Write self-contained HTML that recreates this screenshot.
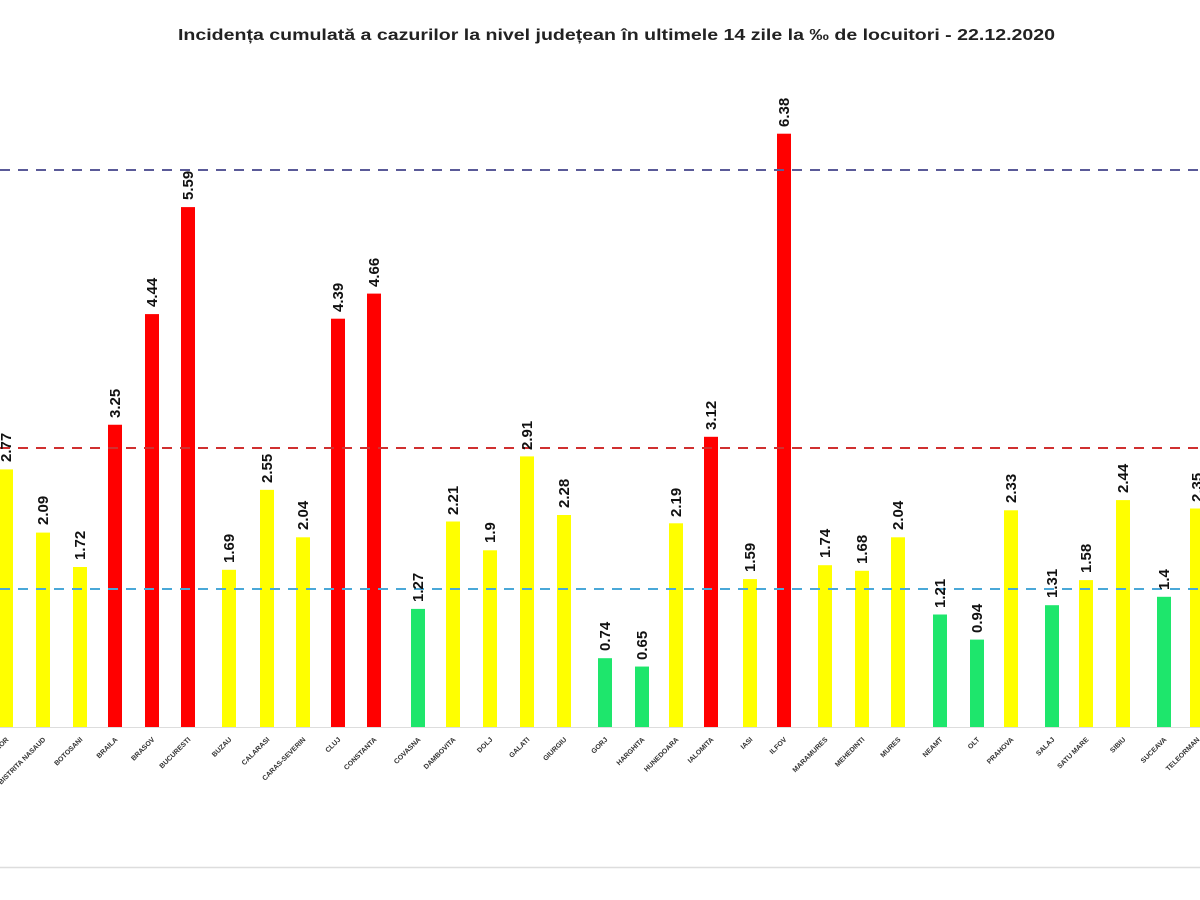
<!DOCTYPE html>
<html><head><meta charset="utf-8"><style>
html,body{margin:0;padding:0;background:#fff;width:1200px;height:900px;overflow:hidden}
svg{display:block}
.v{font:bold 15px "Liberation Sans",sans-serif;fill:#111}
.c{font:bold 7px "Liberation Sans",sans-serif;fill:#333}
</style></head><body>
<svg width="1200" height="900" viewBox="0 0 1200 900">
<text x="178" y="40" textLength="877" lengthAdjust="spacingAndGlyphs" style="font:bold 16px 'Liberation Sans',sans-serif;fill:#222">Incidența cumulată a cazurilor la nivel județean în ultimele 14 zile la ‰ de locuitori - 22.12.2020</text>
<line x1="0" y1="727.5" x2="1200" y2="727.5" stroke="#ddd" stroke-width="1"/>
<line x1="0" y1="867.5" x2="1200" y2="867.5" stroke="#ddd" stroke-width="1.5"/>
<g>
<rect x="-1" y="469.4" width="14" height="257.6" fill="#ffff00"/>
<rect x="36" y="532.6" width="14" height="194.4" fill="#ffff00"/>
<rect x="73" y="567" width="14" height="160" fill="#ffff00"/>
<rect x="108" y="424.75" width="14" height="302.25" fill="#ff0000"/>
<rect x="145" y="314.1" width="14" height="412.9" fill="#ff0000"/>
<rect x="181" y="207.1" width="14" height="519.9" fill="#ff0000"/>
<rect x="222" y="569.8" width="14" height="157.2" fill="#ffff00"/>
<rect x="260" y="489.85" width="14" height="237.15" fill="#ffff00"/>
<rect x="296" y="537.3" width="14" height="189.7" fill="#ffff00"/>
<rect x="331" y="318.7" width="14" height="408.3" fill="#ff0000"/>
<rect x="367" y="293.6" width="14" height="433.4" fill="#ff0000"/>
<rect x="411" y="608.9" width="14" height="118.1" fill="#1ee66c"/>
<rect x="446" y="521.5" width="14" height="205.5" fill="#ffff00"/>
<rect x="483" y="550.3" width="14" height="176.7" fill="#ffff00"/>
<rect x="520" y="456.4" width="14" height="270.6" fill="#ffff00"/>
<rect x="557" y="515" width="14" height="212" fill="#ffff00"/>
<rect x="598" y="658.2" width="14" height="68.8" fill="#1ee66c"/>
<rect x="635" y="666.55" width="14" height="60.45" fill="#1ee66c"/>
<rect x="669" y="523.3" width="14" height="203.7" fill="#ffff00"/>
<rect x="704" y="436.8" width="14" height="290.2" fill="#ff0000"/>
<rect x="743" y="579.1" width="14" height="147.9" fill="#ffff00"/>
<rect x="777" y="133.7" width="14" height="593.3" fill="#ff0000"/>
<rect x="818" y="565.2" width="14" height="161.8" fill="#ffff00"/>
<rect x="855" y="570.8" width="14" height="156.2" fill="#ffff00"/>
<rect x="891" y="537.3" width="14" height="189.7" fill="#ffff00"/>
<rect x="933" y="614.5" width="14" height="112.5" fill="#1ee66c"/>
<rect x="970" y="639.6" width="14" height="87.4" fill="#1ee66c"/>
<rect x="1004" y="510.3" width="14" height="216.7" fill="#ffff00"/>
<rect x="1045" y="605.2" width="14" height="121.8" fill="#1ee66c"/>
<rect x="1079" y="580.1" width="14" height="146.9" fill="#ffff00"/>
<rect x="1116" y="500.1" width="14" height="226.9" fill="#ffff00"/>
<rect x="1157" y="596.8" width="14" height="130.2" fill="#1ee66c"/>
<rect x="1190" y="508.5" width="14" height="218.5" fill="#ffff00"/>
</g>
<line x1="0" y1="170" x2="1200" y2="170" stroke="#5a5a98" stroke-width="2" stroke-dasharray="10 8"/>
<line x1="0" y1="448" x2="1200" y2="448" stroke="#d03030" stroke-width="2" stroke-dasharray="10 8"/>
<line x1="0" y1="589" x2="1200" y2="589" stroke="#4aa8d8" stroke-width="2" stroke-dasharray="10 8"/>
<g class="v">
<text transform="translate(11,462) rotate(-90)">2.77</text>
<text transform="translate(48,525) rotate(-90)">2.09</text>
<text transform="translate(85,560) rotate(-90)">1.72</text>
<text transform="translate(120,418) rotate(-90)">3.25</text>
<text transform="translate(157,307) rotate(-90)">4.44</text>
<text transform="translate(193,200) rotate(-90)">5.59</text>
<text transform="translate(234,563) rotate(-90)">1.69</text>
<text transform="translate(272,483) rotate(-90)">2.55</text>
<text transform="translate(308,530) rotate(-90)">2.04</text>
<text transform="translate(343,312) rotate(-90)">4.39</text>
<text transform="translate(379,287) rotate(-90)">4.66</text>
<text transform="translate(423,602) rotate(-90)">1.27</text>
<text transform="translate(458,515) rotate(-90)">2.21</text>
<text transform="translate(495,543) rotate(-90)">1.9</text>
<text transform="translate(532,450) rotate(-90)">2.91</text>
<text transform="translate(569,508) rotate(-90)">2.28</text>
<text transform="translate(610,651) rotate(-90)">0.74</text>
<text transform="translate(647,660) rotate(-90)">0.65</text>
<text transform="translate(681,517) rotate(-90)">2.19</text>
<text transform="translate(716,430) rotate(-90)">3.12</text>
<text transform="translate(755,572) rotate(-90)">1.59</text>
<text transform="translate(789,127) rotate(-90)">6.38</text>
<text transform="translate(830,558) rotate(-90)">1.74</text>
<text transform="translate(867,564) rotate(-90)">1.68</text>
<text transform="translate(903,530) rotate(-90)">2.04</text>
<text transform="translate(945,608) rotate(-90)">1.21</text>
<text transform="translate(982,633) rotate(-90)">0.94</text>
<text transform="translate(1016,503) rotate(-90)">2.33</text>
<text transform="translate(1057,598) rotate(-90)">1.31</text>
<text transform="translate(1091,573) rotate(-90)">1.58</text>
<text transform="translate(1128,493) rotate(-90)">2.44</text>
<text transform="translate(1169,590) rotate(-90)">1.4</text>
<text transform="translate(1202,502) rotate(-90)">2.35</text>
</g>
<g class="c" text-anchor="end">
<text transform="translate(9,740) rotate(-45)">BIHOR</text>
<text transform="translate(46,740) rotate(-45)">BISTRITA NASAUD</text>
<text transform="translate(83,740) rotate(-45)">BOTOSANI</text>
<text transform="translate(118,740) rotate(-45)">BRAILA</text>
<text transform="translate(155,740) rotate(-45)">BRASOV</text>
<text transform="translate(191,740) rotate(-45)">BUCURESTI</text>
<text transform="translate(232,740) rotate(-45)">BUZAU</text>
<text transform="translate(270,740) rotate(-45)">CALARASI</text>
<text transform="translate(306,740) rotate(-45)">CARAS-SEVERIN</text>
<text transform="translate(341,740) rotate(-45)">CLUJ</text>
<text transform="translate(377,740) rotate(-45)">CONSTANTA</text>
<text transform="translate(421,740) rotate(-45)">COVASNA</text>
<text transform="translate(456,740) rotate(-45)">DAMBOVITA</text>
<text transform="translate(493,740) rotate(-45)">DOLJ</text>
<text transform="translate(530,740) rotate(-45)">GALATI</text>
<text transform="translate(567,740) rotate(-45)">GIURGIU</text>
<text transform="translate(608,740) rotate(-45)">GORJ</text>
<text transform="translate(645,740) rotate(-45)">HARGHITA</text>
<text transform="translate(679,740) rotate(-45)">HUNEDOARA</text>
<text transform="translate(714,740) rotate(-45)">IALOMITA</text>
<text transform="translate(753,740) rotate(-45)">IASI</text>
<text transform="translate(787,740) rotate(-45)">ILFOV</text>
<text transform="translate(828,740) rotate(-45)">MARAMURES</text>
<text transform="translate(865,740) rotate(-45)">MEHEDINTI</text>
<text transform="translate(901,740) rotate(-45)">MURES</text>
<text transform="translate(943,740) rotate(-45)">NEAMT</text>
<text transform="translate(980,740) rotate(-45)">OLT</text>
<text transform="translate(1014,740) rotate(-45)">PRAHOVA</text>
<text transform="translate(1055,740) rotate(-45)">SALAJ</text>
<text transform="translate(1089,740) rotate(-45)">SATU MARE</text>
<text transform="translate(1126,740) rotate(-45)">SIBIU</text>
<text transform="translate(1167,740) rotate(-45)">SUCEAVA</text>
<text transform="translate(1200,740) rotate(-45)">TELEORMAN</text>
</g>
</svg>
</body></html>
